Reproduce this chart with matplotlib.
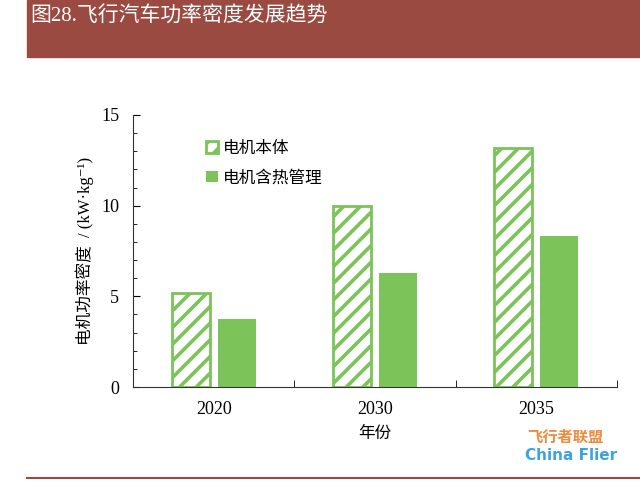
import matplotlib
matplotlib.use('Agg')
import matplotlib.pyplot as plt
import numpy as np
from matplotlib.patches import Rectangle
from matplotlib.lines import Line2D

# data
years = ['2020', '2030', '2035']
motor_body = [5.2, 10.0, 13.2]        # 电机本体
motor_thermal = [3.75, 6.3, 8.3]      # 电机含热管理
series_names = ['电机本体', '电机含热管理']

plt.rcParams['font.family'] = ['Liberation Serif', 'Noto Sans CJK SC', 'DejaVu Serif']
plt.rcParams['hatch.linewidth'] = 2.6

green = '#7cc35a'
brown = '#9a4a41'

fig = plt.figure(figsize=(6.4, 4.83), dpi=100)

# header band
fig.patches.append(Rectangle((27 / 640, 1 - 57 / 483), 1 - 27 / 640, 57 / 483,
                             transform=fig.transFigure, color=brown, zorder=0))
fig.text(30 / 640, 1 - 17 / 483, '图28.飞行汽车功率密度发展趋势', color='white',
         fontsize=15, va='center', ha='left')
# bottom rule
fig.lines.append(Line2D([27 / 640, 1], [1 - 478 / 483] * 2, transform=fig.transFigure,
                        color=brown, lw=1.5))

ax = fig.add_axes([133 / 640, 1 - 387 / 483, (617 - 133) / 640, (387 - 115) / 483])

x = np.arange(len(years))
w = 0.235
off = 0.143
ax.bar(x - off, motor_body, w, facecolor='white', edgecolor=green, hatch='//',
       linewidth=2, label=series_names[0])
ax.bar(x + off, motor_thermal, w, color=green, label=series_names[1])

ax.set_xlim(-0.5, 2.5)
ax.set_ylim(0, 15)
ax.set_yticks([0, 5, 10, 15])
ax.set_yticks(np.arange(0, 16, 1), minor=True)
ax.set_xticks(x)
ax.set_xticklabels(years)
ax.set_xticks([0.5, 1.5, 2.5], minor=True)
ax.tick_params(axis='x', which='major', length=0, labelsize=13, pad=10)
ax.tick_params(axis='x', which='minor', direction='in', length=5)
ax.tick_params(axis='y', which='major', direction='in', length=5, labelsize=13, pad=10)
ax.tick_params(axis='y', which='minor', direction='in', length=3)
for s in ['top', 'right']:
    ax.spines[s].set_visible(False)
for s in ['left', 'bottom']:
    ax.spines[s].set_color('#333333')

ax.set_xlabel('年份', fontsize=12, labelpad=6)
ax.set_ylabel('电机功率密度  / (kW·kg⁻¹)', fontsize=12, labelpad=5)

ax.legend(loc='upper left', bbox_to_anchor=(0.12, 0.96), frameon=False,
          fontsize=12, handlelength=0.7, handleheight=0.7, handletextpad=0.3,
          labelspacing=0.8)

# watermark
fig.text(527 / 640, 1 - 437 / 483, '飞行者联盟', color='#f08a3c', fontsize=11,
         fontweight='bold', ha='left', va='center', family='Noto Sans CJK SC')
fig.text(525 / 640, 1 - 456 / 483, 'China Flier', color='#3aa4e0', fontsize=11,
         fontweight='bold', ha='left', va='center', family='DejaVu Sans')

fig.savefig('out.png', dpi=100)
